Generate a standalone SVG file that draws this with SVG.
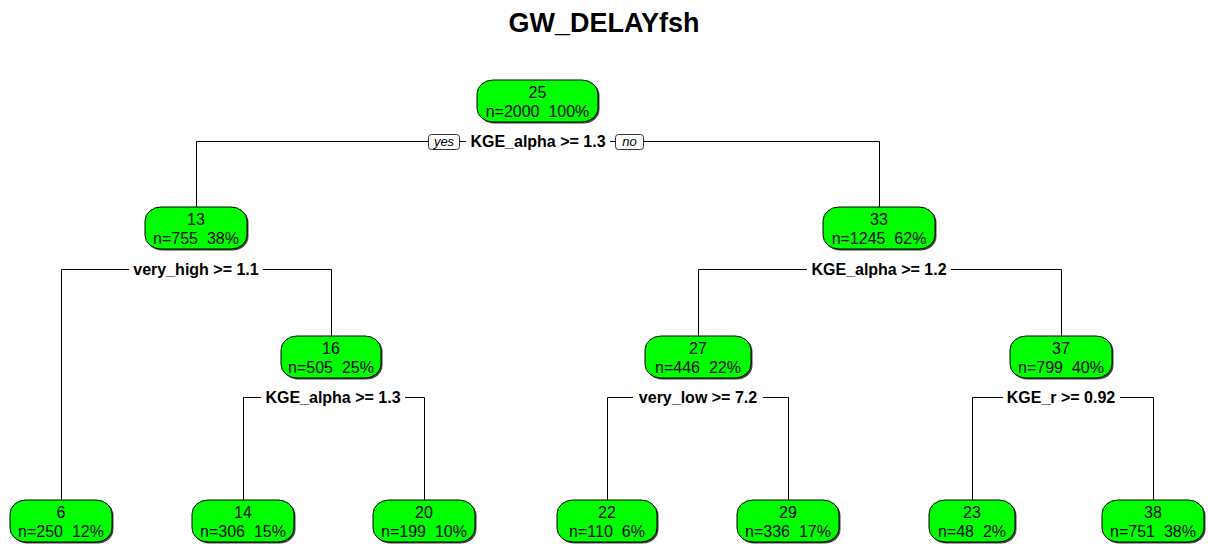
<svg xmlns="http://www.w3.org/2000/svg" width="1208" height="544" viewBox="0 0 1208 544">
  <style>
    .title { font: bold 27px "Liberation Sans", Arial, sans-serif; fill: #000; }
    .shadow { fill: #444; }
    .box { fill: #00ff00; stroke: #000; stroke-width: 1; }
    .ntext { font: 16px "Liberation Sans", Arial, sans-serif; fill: #000; text-anchor: middle; white-space: pre; }
    .split { font: bold 16px "Liberation Sans", Arial, sans-serif; fill: #000; text-anchor: middle; }
    .lblbg { fill: #fff; }
    .edge { fill: none; stroke: #000; stroke-width: 1; }
    .yn { fill: #fff; stroke: #000; stroke-width: 0.8; }
    .yntext { font: italic 13px "Liberation Sans", Arial, sans-serif; fill: #000; text-anchor: middle; }
  </style>

  <rect width="1208" height="544" fill="#fff"/>

  <text class="title" x="604" y="32" text-anchor="middle">GW_DELAYfsh</text>

  <!-- branch lines -->
  <g id="connectors">
    <path class="edge" d="M196.5 207 V141.5 H879.5 V207"/>
    <path class="edge" d="M61.5 501 V269.5 H331.5 V336"/>
    <path class="edge" d="M698.5 336 V269.5 H1061.5 V336"/>
    <path class="edge" d="M243.5 501 V397.5 H424.5 V501"/>
    <path class="edge" d="M607.5 501 V397.5 H788.5 V501"/>
    <path class="edge" d="M972.5 501 V397.5 H1153.5 V501"/>
  </g>

  <!-- split labels -->
  <g id="splits">
    <rect class="lblbg" x="466" y="133" width="144" height="18"/>
    <text class="split" x="538" y="147">KGE_alpha &gt;= 1.3</text>
    <rect class="yn" x="428.5" y="134.5" width="31" height="15" rx="3"/>
    <text class="yntext" x="444" y="146">yes</text>
    <rect class="yn" x="615.5" y="134.5" width="28" height="15" rx="3"/>
    <text class="yntext" x="629.5" y="146">no</text>

    <rect class="lblbg" x="129" y="261" width="134" height="18"/>
    <text class="split" x="196" y="275">very_high &gt;= 1.1</text>
    <rect class="lblbg" x="807" y="261" width="144" height="18"/>
    <text class="split" x="879" y="275">KGE_alpha &gt;= 1.2</text>

    <rect class="lblbg" x="261" y="389" width="144" height="18"/>
    <text class="split" x="333" y="403">KGE_alpha &gt;= 1.3</text>
    <rect class="lblbg" x="633" y="389" width="130" height="18"/>
    <text class="split" x="698" y="403">very_low &gt;= 7.2</text>
    <rect class="lblbg" x="1003" y="389" width="117" height="18"/>
    <text class="split" x="1061" y="403">KGE_r &gt;= 0.92</text>
  </g>

  <!-- nodes -->
  <g id="node-1">
    <rect class="shadow" x="478.5" y="81.5" width="121" height="42" rx="16" ry="14"/>
    <rect class="box" x="477" y="80" width="121" height="42" rx="16" ry="14"/>
    <text class="ntext" x="537.5" y="98">25</text>
    <text class="ntext" x="537.5" y="117">n=2000  100%</text>
  </g>
  <g id="node-2">
    <rect class="shadow" x="146.5" y="208.5" width="102" height="42" rx="16" ry="14"/>
    <rect class="box" x="145" y="207" width="102" height="42" rx="16" ry="14"/>
    <text class="ntext" x="196" y="225">13</text>
    <text class="ntext" x="196" y="244">n=755  38%</text>
  </g>
  <g id="node-3">
    <rect class="shadow" x="824.5" y="208.5" width="112" height="42" rx="16" ry="14"/>
    <rect class="box" x="823" y="207" width="112" height="42" rx="16" ry="14"/>
    <text class="ntext" x="879" y="225">33</text>
    <text class="ntext" x="879" y="244">n=1245  62%</text>
  </g>
  <g id="node-5">
    <rect class="shadow" x="282.5" y="337.5" width="100" height="42" rx="16" ry="14"/>
    <rect class="box" x="281" y="336" width="100" height="42" rx="16" ry="14"/>
    <text class="ntext" x="331" y="354">16</text>
    <text class="ntext" x="331" y="373">n=505  25%</text>
  </g>
  <g id="node-6">
    <rect class="shadow" x="646.5" y="337.5" width="106" height="42" rx="16" ry="14"/>
    <rect class="box" x="645" y="336" width="106" height="42" rx="16" ry="14"/>
    <text class="ntext" x="698" y="354">27</text>
    <text class="ntext" x="698" y="373">n=446  22%</text>
  </g>
  <g id="node-7">
    <rect class="shadow" x="1011.5" y="337.5" width="102" height="42" rx="16" ry="14"/>
    <rect class="box" x="1010" y="336" width="102" height="42" rx="16" ry="14"/>
    <text class="ntext" x="1061" y="354">37</text>
    <text class="ntext" x="1061" y="373">n=799  40%</text>
  </g>
  <g id="node-4">
    <rect class="shadow" x="11.5" y="501.5" width="102" height="42" rx="16" ry="14"/>
    <rect class="box" x="10" y="500" width="102" height="42" rx="16" ry="14"/>
    <text class="ntext" x="61" y="518">6</text>
    <text class="ntext" x="61" y="537">n=250  12%</text>
  </g>
  <g id="node-10">
    <rect class="shadow" x="193.5" y="501.5" width="102" height="42" rx="16" ry="14"/>
    <rect class="box" x="192" y="500" width="102" height="42" rx="16" ry="14"/>
    <text class="ntext" x="243" y="518">14</text>
    <text class="ntext" x="243" y="537">n=306  15%</text>
  </g>
  <g id="node-11">
    <rect class="shadow" x="374.5" y="501.5" width="102" height="42" rx="16" ry="14"/>
    <rect class="box" x="373" y="500" width="102" height="42" rx="16" ry="14"/>
    <text class="ntext" x="424" y="518">20</text>
    <text class="ntext" x="424" y="537">n=199  10%</text>
  </g>
  <g id="node-12">
    <rect class="shadow" x="558.5" y="501.5" width="100" height="42" rx="16" ry="14"/>
    <rect class="box" x="557" y="500" width="100" height="42" rx="16" ry="14"/>
    <text class="ntext" x="607" y="518">22</text>
    <text class="ntext" x="607" y="537">n=110  6%</text>
  </g>
  <g id="node-13">
    <rect class="shadow" x="738.5" y="501.5" width="102" height="42" rx="16" ry="14"/>
    <rect class="box" x="737" y="500" width="102" height="42" rx="16" ry="14"/>
    <text class="ntext" x="788" y="518">29</text>
    <text class="ntext" x="788" y="537">n=336  17%</text>
  </g>
  <g id="node-14">
    <rect class="shadow" x="930.5" y="501.5" width="86" height="42" rx="16" ry="14"/>
    <rect class="box" x="929" y="500" width="86" height="42" rx="16" ry="14"/>
    <text class="ntext" x="972" y="518">23</text>
    <text class="ntext" x="972" y="537">n=48  2%</text>
  </g>
  <g id="node-15">
    <rect class="shadow" x="1103.5" y="501.5" width="102" height="42" rx="16" ry="14"/>
    <rect class="box" x="1102" y="500" width="102" height="42" rx="16" ry="14"/>
    <text class="ntext" x="1153" y="518">38</text>
    <text class="ntext" x="1153" y="537">n=751  38%</text>
  </g>
</svg>
